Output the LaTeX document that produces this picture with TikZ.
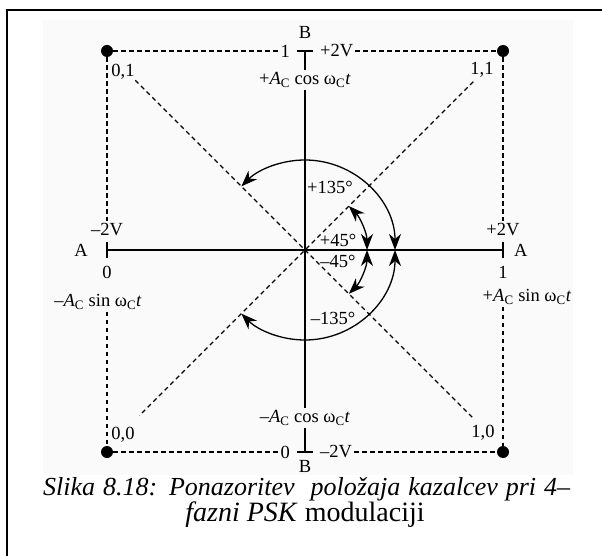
\documentclass[tikz,border=0pt]{standalone}
\usepackage{fontspec}
\setmainfont{Liberation Serif}
\usetikzlibrary{positioning,arrows.meta}
\newcommand{\Ac}{\textit{A}\textsubscript{C}}
\newcommand{\wct}{ω\textsubscript{C}\textit{t}}
\begin{document}
\begin{tikzpicture}[x=1pt, y=1pt,
    dot/.style={circle, fill, inner sep=0pt, minimum size=12pt},
    lbl/.style={font=\fontsize{18.5}{20}\selectfont, inner sep=2pt},
    axis/.style={line width=1.2pt},
    dashln/.style={dash pattern=on 4.5pt off 3.5pt, line width=1.2pt},
    phase/.style={line width=1.3pt, {Stealth[length=16pt,width=12pt,inset=5pt]}-{Stealth[length=16pt,width=12pt,inset=5pt]}},
    caption/.style={font=\fontsize{26}{30}\selectfont, inner sep=0pt}]
\useasboundingbox (0,0) rectangle (602,555);
\fill[black!2] (43,80) rectangle (573,535);
\draw[line width=2pt] (7,-10) |- (620,545); % frame, cut at right and bottom

% ticks and constellation points
\coordinate (O) at (305,305);
\coordinate (Al) at (107,305);
\coordinate (Ar) at (503,305);
\coordinate (Bt) at (305,504);
\coordinate (Bb) at (305,103);
\node[dot] (p01) at (107,504) {};
\node[dot] (p11) at (503,504) {};
\node[dot] (p00) at (107,103) {};
\node[dot] (p10) at (503,103) {};

% labels
\node[lbl, above=10pt of Bt] (Btl) {B};
\node[lbl, left=13pt of Bt] (one) {1};
\node[lbl, right=13pt of Bt] (p2vt) {+2V};
\node[lbl] (cosp) at (305,475) {+\Ac{} cos \wct};
\node[lbl, below=6pt of Bb] (Bbl) {B};
\node[lbl, left=13pt of Bb] (zero) {0};
\node[lbl, right=13pt of Bb] (m2vb) {–2V};
\node[lbl] (cosn) at (305,137) {–\Ac{} cos \wct};
\node[lbl, above=12pt of Al] (m2vl) {–2V};
\node[lbl, left=17pt of Al] (Al_l) {A};
\node[lbl, below=14pt of Al] (zl) {0};
\node[lbl] (msin) at (98,253) {–\Ac{} sin \wct};
\node[lbl, above=12pt of Ar] (p2vr) {+2V};
\node[lbl, right=9pt of Ar] (Ar_l) {A};
\node[lbl, below=14pt of Ar] (onr) {1};
\node[lbl] (psin) at (527,258) {+\Ac{} sin \wct};
\node[lbl] (l01) at (123,483) {0,1};
\node[lbl] (l11) at (482,485) {1,1};
\node[lbl] (l00) at (123,120) {0,0};
\node[lbl] (l10) at (483,122) {1,0};
\node[lbl] (a135p) at (330,368) {+135°};
\node[lbl] (a45p) at (338,315) {+45°};
\node[lbl] (a45m) at (338,294) {–45°};
\node[lbl] (a135m) at (333,237) {–135°};

% axes
\draw[axis] (Al) -- (Ar);
\draw[axis] ([yshift=-8pt]Al) -- ([yshift=8pt]Al);
\draw[axis] ([yshift=-8pt]Ar) -- ([yshift=8pt]Ar);
\draw[axis] ([xshift=-8pt]Bt) -- ([xshift=8pt]Bt);
\draw[axis] ([xshift=-8pt]Bb) -- ([xshift=8pt]Bb);
\draw[axis] (Bt) -- (cosp);
\draw[axis] (cosp) -- (cosn);
\draw[axis] (cosn) -- (Bb);

% dashed square and diagonals
\draw[dashln] (p01) -- (one);
\draw[dashln] (p2vt) -- (p11);
\draw[dashln] (p00) -- (zero);
\draw[dashln] (m2vb) -- (p10);
\draw[dashln] (p01) -- (m2vl.north -| p01);
\draw[dashln] (msin.south -| p00) -- (p00);
\draw[dashln] (p11) -- (p2vr.north -| p11);
\draw[dashln] (psin.south -| p10) -- (p10);
\path (O) ++(135:240pt) coordinate (d01) (O) ++(-45:237pt) coordinate (d10)
      (O) ++(45:238pt) coordinate (d11) (O) ++(-135:234pt) coordinate (d00);
\draw[dashln] (d01) -- (d10);
\draw[dashln] (d11) -- (d00);

% phase shifts
\draw[phase] (O) ++(0:90pt) arc[start angle=0, end angle=135, radius=90pt];
\draw[phase] (O) ++(0:90pt) arc[start angle=0, end angle=-135, radius=90pt];
\draw[phase] (O) ++(0:62pt) arc[start angle=0, end angle=45, radius=62pt];
\draw[phase] (O) ++(0:62pt) arc[start angle=0, end angle=-45, radius=62pt];

% caption
\node[caption, anchor=base west] (cap1) at (43,60)
    {\hbox to 527pt{\itshape Slika 8.18: Ponazoritev\ \ položaja kazalcev pri 4–}};
\node[caption, font=\fontsize{28}{32}\selectfont, anchor=base] (cap2) at (305,34) {\textit{fazni PSK} modulaciji};
\end{tikzpicture}
\end{document}
